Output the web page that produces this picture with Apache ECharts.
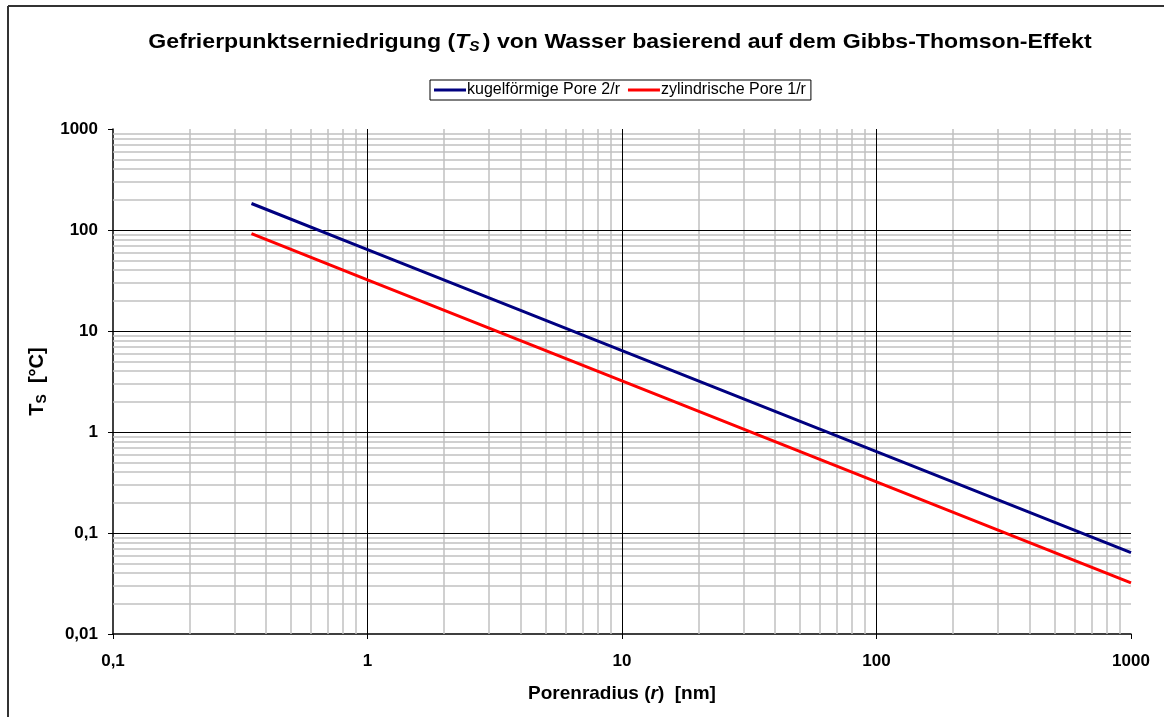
<!DOCTYPE html>
<html>
<head>
<meta charset="utf-8">
<script src="https://cdn.jsdelivr.net/npm/echarts@6/dist/echarts.min.js"></script>
<style>html,body{margin:0;padding:0;background:#fff}#c{width:1164px;height:717px}</style>
</head>
<body>
<div id="c"></div>
<script>
// ---- data ----
var radius = [0.35, 1, 10, 100, 1000];          // Porenradius r [nm]
var kugel = [183, 64, 6.4, 0.64, 0.064];         // kugelförmige Pore 2/r
var zylinder = [92, 32, 3.2, 0.32, 0.032];       // zylindrische Pore 1/r
var xTicks = [0.1, 1, 10, 100, 1000];
var yTicks = [0.01, 0.1, 1, 10, 100, 1000];
var seriesNames = ['kugelförmige Pore 2/r', 'zylindrische Pore 1/r'];

var FONT = '"Liberation Sans", Arial, sans-serif';
function minorLines(ticks) {
  var out = [];
  for (var i = 0; i < ticks.length - 1; i++)
    for (var m = 2; m <= 9; m++) out.push(+(ticks[i] * m).toPrecision(6));
  return out;
}
function comma(v) { return String(+(+v).toPrecision(6)).replace('.', ','); }

var xMinor = minorLines(xTicks), yMinor = minorLines(yTicks);
var minorData = xMinor.map(function (v) { return { xAxis: v }; })
  .concat(yMinor.map(function (v) { return { yAxis: v }; }));
var majorData = xTicks.slice(1, -1).map(function (v) { return { xAxis: v }; })
  .concat(yTicks.slice(1, -1).map(function (v) { return { yAxis: v }; }));

var chart = echarts.init(document.getElementById('c'));
chart.setOption({
  animation: false,
  backgroundColor: '#fff',
  textStyle: { fontFamily: FONT },
  graphic: [
    { type: 'line', shape: { x1: 8, y1: 6, x2: 1164, y2: 6 }, style: { stroke: '#333', lineWidth: 2 } },
    { type: 'line', shape: { x1: 8, y1: 6, x2: 8, y2: 717 }, style: { stroke: '#333', lineWidth: 2 } },
    {
      type: 'text', x: 620, y: 42, scaleX: 1.1,
      style: {
        text: '{b|Gefrierpunktserniedrigung (}{i|T}{s|S}{b|) von Wasser basierend auf dem Gibbs-Thomson-Effekt}',
        align: 'center', verticalAlign: 'middle',
        rich: {
          b: { fontFamily: FONT, fontWeight: 'bold', fontSize: 21, fill: '#000' },
          i: { fontFamily: FONT, fontWeight: 'bold', fontStyle: 'italic', fontSize: 21, fill: '#000' },
          s: { fontFamily: FONT, fontWeight: 'bold', fontStyle: 'italic', fontSize: 14, fill: '#000', padding: [10, 3, 0, 0] }
        }
      }
    }
  ],
  legend: {
    left: 430, top: 80,
    data: seriesNames,
    icon: 'rect', itemWidth: 32, itemHeight: 3, itemGap: 8,
    borderColor: '#000', borderWidth: 1, padding: [2, 5, 2, 4],
    textStyle: { fontFamily: FONT, fontSize: 16, color: '#000', padding: [0, 0, 0, -4] }
  },
  grid: { left: 113, right: 33, top: 129, bottom: 83 },
  xAxis: {
    type: 'log', logBase: 10, min: 0.1, max: 1000,
    name: '{b|Porenradius (}{i|r}{b|)  [nm]}',
    nameLocation: 'middle', nameGap: 50,
    nameTextStyle: {
      rich: {
        b: { fontFamily: FONT, fontWeight: 'bold', fontSize: 19, color: '#000' },
        i: { fontFamily: FONT, fontWeight: 'bold', fontStyle: 'italic', fontSize: 19, color: '#000' }
      }
    },
    axisLine: { lineStyle: { color: '#000', width: 1.5 } },
    axisTick: { show: true, length: 5, lineStyle: { color: '#000' } },
    axisLabel: { margin: 19, fontSize: 17, fontWeight: 'bold', color: '#000', fontFamily: FONT, formatter: comma },
    splitLine: { show: false }
  },
  yAxis: {
    type: 'log', logBase: 10, min: 0.01, max: 1000,
    name: '{t|T}{s|S}{t|  [°C]}',
    nameLocation: 'middle', nameGap: 57,
    nameTextStyle: {
      rich: {
        t: { fontFamily: FONT, fontWeight: 'bold', fontSize: 20, color: '#000' },
        s: { fontFamily: FONT, fontWeight: 'bold', fontSize: 14, color: '#000', padding: [9, 0, 0, 0] }
      }
    },
    axisLine: { lineStyle: { color: '#000', width: 1.5 } },
    axisTick: { show: true, length: 5, lineStyle: { color: '#000' } },
    axisLabel: { margin: 15, fontSize: 17, fontWeight: 'bold', color: '#000', fontFamily: FONT, formatter: comma },
    splitLine: { show: false }
  },
  series: [
    {
      type: 'line', data: [], silent: true, z: 1,
      markLine: {
        z: 1,
        silent: true, symbol: ['none', 'none'], label: { show: false },
        lineStyle: { color: '#c0c0c0', width: 1.5, type: 'solid' },
        emphasis: { disabled: true },
        data: minorData
      }
    },
    {
      type: 'line', data: [], silent: true, z: 1.5,
      markLine: {
        z: 1.5,
        silent: true, symbol: ['none', 'none'], label: { show: false },
        lineStyle: { color: '#000', width: 1, type: 'solid' },
        emphasis: { disabled: true },
        data: majorData
      }
    },
    {
      name: seriesNames[0], type: 'line', z: 3,
      data: radius.map(function (r, i) { return [r, kugel[i]]; }),
      showSymbol: false, color: '#000080',
      lineStyle: { color: '#000080', width: 3 }
    },
    {
      name: seriesNames[1], type: 'line', z: 3,
      data: radius.map(function (r, i) { return [r, zylinder[i]]; }),
      showSymbol: false, color: '#ff0000',
      lineStyle: { color: '#ff0000', width: 3 }
    }
  ]
});
</script>
</body>
</html>
